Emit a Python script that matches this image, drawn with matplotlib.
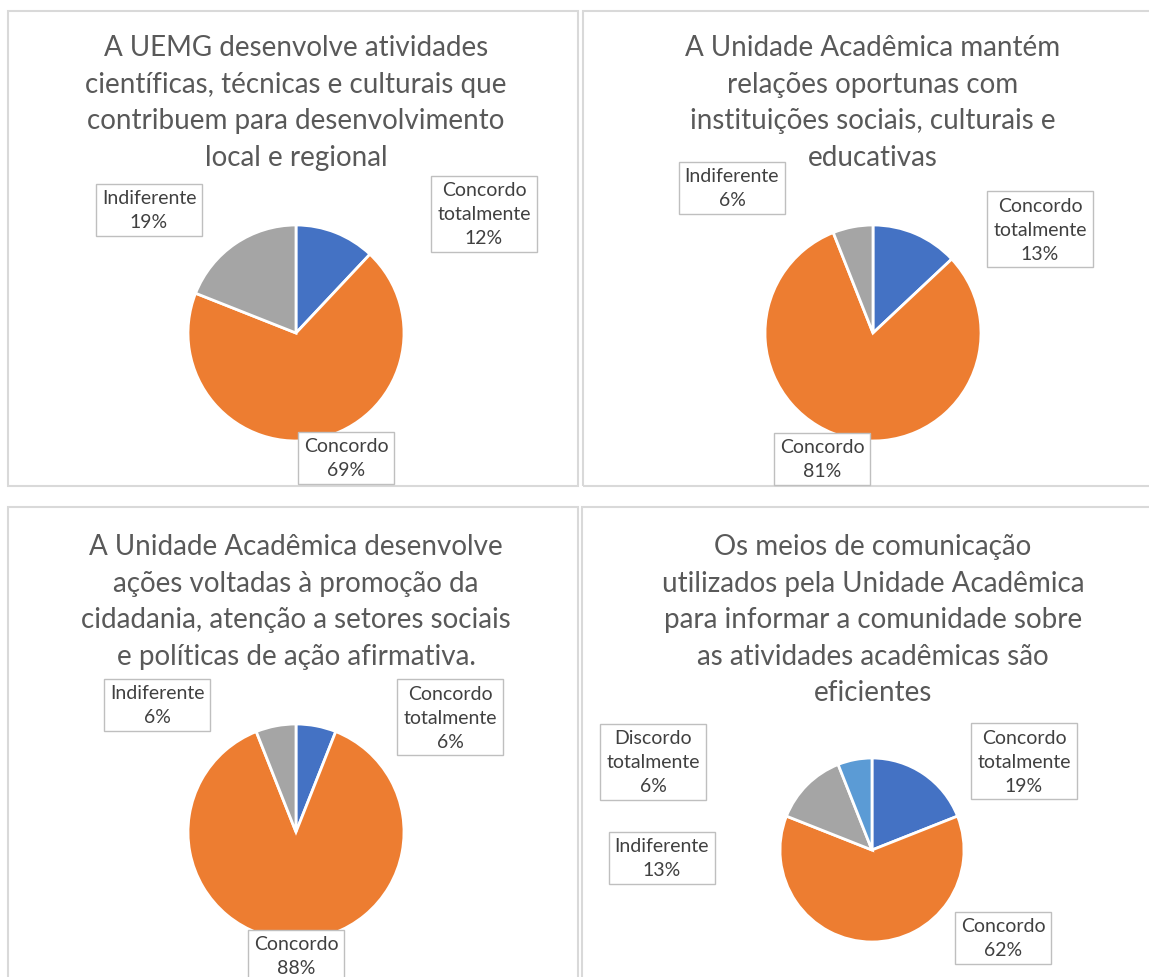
import numpy as np
import matplotlib.pyplot as plt
from matplotlib.patches import Rectangle

plt.rcParams['font.family'] = ['Lato', 'DejaVu Sans']

W, H = 1149, 978

# survey answers, one list per question (percent)
categories = ['Concordo totalmente', 'Concordo', 'Indiferente', 'Discordo totalmente']
q1_values = [12, 69, 19]
q2_values = [13, 81, 6]
q3_values = [6, 88, 6]
q4_values = [19, 62, 13, 6]

titles = [
    ['A UEMG desenvolve atividades', 'científicas, técnicas e culturais que',
     'contribuem para desenvolvimento', 'local e regional'],
    ['A Unidade Acadêmica mantém', 'relações oportunas com',
     'instituições sociais, culturais e', 'educativas'],
    ['A Unidade Acadêmica desenvolve', 'ações voltadas à promoção da',
     'cidadania, atenção a setores sociais', 'e políticas de ação afirmativa.'],
    ['Os meios de comunicação', 'utilizados pela Unidade Acadêmica',
     'para informar a comunidade sobre', 'as atividades acadêmicas são', 'eficientes'],
]

colors = ['#4472C4', '#ED7D31', '#A5A5A5', '#5B9BD5']

# layout in pixels: panel frame, first title line centre, pie centre/radius, label centres
panels = [
    dict(vals=q1_values, frame=(8, 12, 578, 487), title=(296, 48),
         centre=(296, 334), r=108,
         labels=[(484, 215), (346, 459), (149, 211)]),
    dict(vals=q2_values, frame=(583, 12, 1160, 487), title=(873, 48),
         centre=(873, 334), r=108,
         labels=[(1040, 230), (822, 460), (732, 189)]),
    dict(vals=q3_values, frame=(8, 508, 578, 990), title=(296, 547),
         centre=(296, 833), r=108,
         labels=[(450, 718), (296, 957), (157, 706)]),
    dict(vals=q4_values, frame=(582, 508, 1160, 990), title=(873, 547),
         centre=(872, 851), r=92,
         labels=[(1024, 762), (1003, 939), (662, 859), (653, 763)]),
]
line_step = 36.6


def fx(x):
    return x / W


def fy(y):
    return 1 - y / H


fig = plt.figure(figsize=(W / 100, H / 100), dpi=100)
fig.patch.set_facecolor('white')

for k, p in enumerate(panels):
    x0, y0, x1, y1 = p['frame']
    fig.patches.append(Rectangle((fx(x0), fy(y1)), fx(x1 - x0), (y1 - y0) / H,
                                 transform=fig.transFigure, fill=False,
                                 ec='#D9D9D9', lw=1.5, zorder=0))

    tx, ty = p['title']
    for j, line in enumerate(titles[k]):
        fig.text(fx(tx), fy(ty + j * line_step), line, ha='center', va='center',
                 fontsize=20, color='#595959')

    # pie axes sized so that the default +/-1.25 limits give radius r
    cx, cy = p['centre']
    side = 2.5 * p['r']
    ax = fig.add_axes([fx(cx - side / 2), fy(cy + side / 2), side / W, side / H])
    n = len(p['vals'])
    ax.pie(p['vals'], colors=colors[:n], startangle=90, counterclock=False,
           wedgeprops=dict(edgecolor='white', linewidth=2))

    for i, (lx, ly) in enumerate(p['labels']):
        name = categories[i].replace(' ', '\n')
        fig.text(fx(lx), fy(ly), f'{name}\n{p["vals"][i]}%', ha='center', va='center',
                 fontsize=14, color='#404040', linespacing=1.5,
                 bbox=dict(boxstyle='square,pad=0.3', fc='white', ec='#BFBFBF', lw=1))

fig.savefig('out.png', dpi=100)
